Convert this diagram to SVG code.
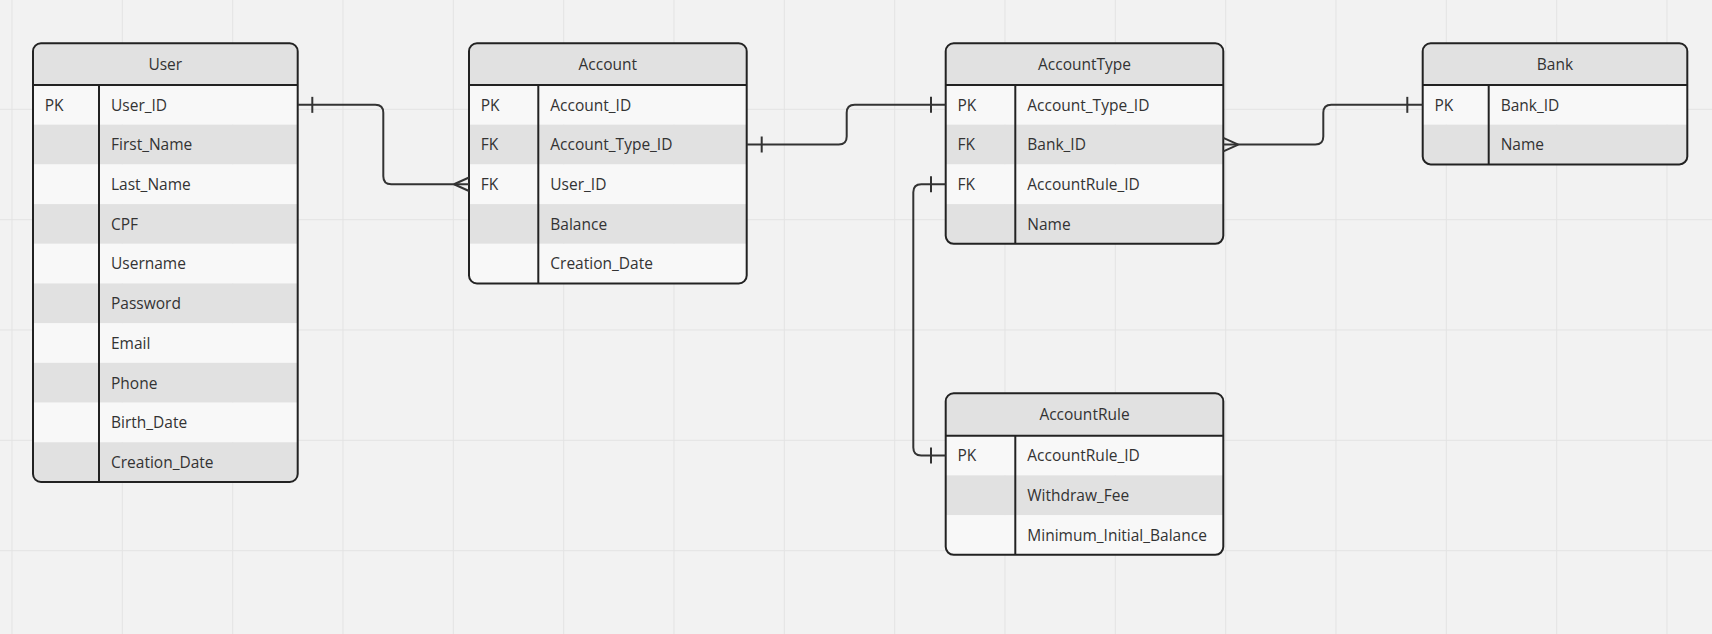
<svg xmlns="http://www.w3.org/2000/svg" width="1712" height="634" viewBox="0 0 1712 634">
<style>
.bg{fill:#f2f2f2}
.grid line{stroke:#e3e3e3;stroke-width:1}
.hd{fill:#e1e1e1}
.rl{fill:#f8f8f8}
.rd{fill:#e1e1e1}
.ol{fill:none;stroke:#222;stroke-width:2}
.ln{stroke:#222;stroke-width:2}
text{font-family:"Open Sans","Noto Sans","DejaVu Sans",sans-serif;font-size:15.5px;fill:#333}
.t{text-anchor:middle}
.conn path{fill:none;stroke:#333;stroke-width:2}
</style>
<defs>
<clipPath id="c-user"><rect x="33" y="43.3" width="264.7" height="438.7" rx="8"/></clipPath>
<clipPath id="c-account"><rect x="469" y="43.3" width="277.7" height="240.2" rx="8"/></clipPath>
<clipPath id="c-accounttype"><rect x="945.7" y="43.3" width="277.6" height="200.5" rx="8"/></clipPath>
<clipPath id="c-bank"><rect x="1422.7" y="43.3" width="264.6" height="121.1" rx="8"/></clipPath>
<clipPath id="c-accountrule"><rect x="945.7" y="393.3" width="277.6" height="161.5" rx="8"/></clipPath>
</defs>
<rect class="bg" x="0" y="0" width="1712" height="634"/>
<g class="grid">
<line x1="12" y1="0" x2="12" y2="634"/><line x1="122.3" y1="0" x2="122.3" y2="634"/><line x1="232.7" y1="0" x2="232.7" y2="634"/><line x1="343" y1="0" x2="343" y2="634"/><line x1="453.3" y1="0" x2="453.3" y2="634"/><line x1="563.7" y1="0" x2="563.7" y2="634"/><line x1="674" y1="0" x2="674" y2="634"/><line x1="784.3" y1="0" x2="784.3" y2="634"/><line x1="894.7" y1="0" x2="894.7" y2="634"/><line x1="1005" y1="0" x2="1005" y2="634"/><line x1="1115.3" y1="0" x2="1115.3" y2="634"/><line x1="1225.7" y1="0" x2="1225.7" y2="634"/><line x1="1336" y1="0" x2="1336" y2="634"/><line x1="1446.3" y1="0" x2="1446.3" y2="634"/><line x1="1556.7" y1="0" x2="1556.7" y2="634"/><line x1="1667" y1="0" x2="1667" y2="634"/>
<line x1="0" y1="109.3" x2="1712" y2="109.3"/><line x1="0" y1="219.7" x2="1712" y2="219.7"/><line x1="0" y1="330" x2="1712" y2="330"/><line x1="0" y1="440.3" x2="1712" y2="440.3"/><line x1="0" y1="550.7" x2="1712" y2="550.7"/>
</g>

<g id="user">
<g clip-path="url(#c-user)">
<rect class="hd" x="33" y="43.3" width="264.7" height="41.7"/>
<rect class="rl" x="33" y="85" width="264.7" height="39.7"/>
<rect class="rd" x="33" y="124.7" width="264.7" height="39.7"/>
<rect class="rl" x="33" y="164.4" width="264.7" height="39.7"/>
<rect class="rd" x="33" y="204.1" width="264.7" height="39.7"/>
<rect class="rl" x="33" y="243.8" width="264.7" height="39.7"/>
<rect class="rd" x="33" y="283.5" width="264.7" height="39.7"/>
<rect class="rl" x="33" y="323.2" width="264.7" height="39.7"/>
<rect class="rd" x="33" y="362.9" width="264.7" height="39.7"/>
<rect class="rl" x="33" y="402.6" width="264.7" height="39.7"/>
<rect class="rd" x="33" y="442.3" width="264.7" height="39.7"/>
</g>
<line class="ln" x1="33" y1="85" x2="297.7" y2="85"/>
<line class="ln" x1="99" y1="85" x2="99" y2="482"/>
<rect class="ol" x="33" y="43.3" width="264.7" height="438.7" rx="8"/>
<text class="t" x="165.3" y="69.9">User</text>
<text x="44.7" y="110.6">PK</text>
<text x="111" y="110.6">User_ID</text>
<text x="111" y="150.3">First_Name</text>
<text x="111" y="190">Last_Name</text>
<text x="111" y="229.7">CPF</text>
<text x="111" y="269.4">Username</text>
<text x="111" y="309.1">Password</text>
<text x="111" y="348.8">Email</text>
<text x="111" y="388.5">Phone</text>
<text x="111" y="428.2">Birth_Date</text>
<text x="111" y="467.9">Creation_Date</text>
</g>

<g id="account">
<g clip-path="url(#c-account)">
<rect class="hd" x="469" y="43.3" width="277.7" height="41.7"/>
<rect class="rl" x="469" y="85" width="277.7" height="39.7"/>
<rect class="rd" x="469" y="124.7" width="277.7" height="39.7"/>
<rect class="rl" x="469" y="164.4" width="277.7" height="39.7"/>
<rect class="rd" x="469" y="204.1" width="277.7" height="39.7"/>
<rect class="rl" x="469" y="243.8" width="277.7" height="39.7"/>
</g>
<line class="ln" x1="469" y1="85" x2="746.7" y2="85"/>
<line class="ln" x1="538.3" y1="85" x2="538.3" y2="283.5"/>
<rect class="ol" x="469" y="43.3" width="277.7" height="240.2" rx="8"/>
<text class="t" x="607.8" y="69.9">Account</text>
<text x="480.7" y="110.6">PK</text>
<text x="550.3" y="110.6">Account_ID</text>
<text x="480.7" y="150.3">FK</text>
<text x="550.3" y="150.3">Account_Type_ID</text>
<text x="480.7" y="190">FK</text>
<text x="550.3" y="190">User_ID</text>
<text x="550.3" y="229.7">Balance</text>
<text x="550.3" y="269.4">Creation_Date</text>
</g>

<g id="accounttype">
<g clip-path="url(#c-accounttype)">
<rect class="hd" x="945.7" y="43.3" width="277.6" height="41.7"/>
<rect class="rl" x="945.7" y="85" width="277.6" height="39.7"/>
<rect class="rd" x="945.7" y="124.7" width="277.6" height="39.7"/>
<rect class="rl" x="945.7" y="164.4" width="277.6" height="39.7"/>
<rect class="rd" x="945.7" y="204.1" width="277.6" height="39.7"/>
</g>
<line class="ln" x1="945.7" y1="85" x2="1223.3" y2="85"/>
<line class="ln" x1="1015.3" y1="85" x2="1015.3" y2="243.8"/>
<rect class="ol" x="945.7" y="43.3" width="277.6" height="200.5" rx="8"/>
<text class="t" x="1084.5" y="69.9">AccountType</text>
<text x="957.4" y="110.6">PK</text>
<text x="1027.3" y="110.6">Account_Type_ID</text>
<text x="957.4" y="150.3">FK</text>
<text x="1027.3" y="150.3">Bank_ID</text>
<text x="957.4" y="190">FK</text>
<text x="1027.3" y="190">AccountRule_ID</text>
<text x="1027.3" y="229.7">Name</text>
</g>

<g id="bank">
<g clip-path="url(#c-bank)">
<rect class="hd" x="1422.7" y="43.3" width="264.6" height="41.7"/>
<rect class="rl" x="1422.7" y="85" width="264.6" height="39.7"/>
<rect class="rd" x="1422.7" y="124.7" width="264.6" height="39.7"/>
</g>
<line class="ln" x1="1422.7" y1="85" x2="1687.3" y2="85"/>
<line class="ln" x1="1488.7" y1="85" x2="1488.7" y2="164.4"/>
<rect class="ol" x="1422.7" y="43.3" width="264.6" height="121.1" rx="8"/>
<text class="t" x="1555" y="69.9">Bank</text>
<text x="1434.4" y="110.6">PK</text>
<text x="1500.7" y="110.6">Bank_ID</text>
<text x="1500.7" y="150.3">Name</text>
</g>

<g id="accountrule">
<g clip-path="url(#c-accountrule)">
<rect class="hd" x="945.7" y="393.3" width="277.6" height="42.4"/>
<rect class="rl" x="945.7" y="435.7" width="277.6" height="39.7"/>
<rect class="rd" x="945.7" y="475.4" width="277.6" height="39.7"/>
<rect class="rl" x="945.7" y="515.1" width="277.6" height="39.7"/>
</g>
<line class="ln" x1="945.7" y1="435.7" x2="1223.3" y2="435.7"/>
<line class="ln" x1="1015.3" y1="435.7" x2="1015.3" y2="554.8"/>
<rect class="ol" x="945.7" y="393.3" width="277.6" height="161.5" rx="8"/>
<text class="t" x="1084.5" y="420.2">AccountRule</text>
<text x="957.4" y="461.3">PK</text>
<text x="1027.3" y="461.3">AccountRule_ID</text>
<text x="1027.3" y="501">Withdraw_Fee</text>
<text x="1027.3" y="540.7">Minimum_Initial_Balance</text>
</g>

<g class="conn" id="connectors">
<path d="M298,104.85 H375.3 Q383.3,104.85 383.3,112.85 V176.25 Q383.3,184.25 391.3,184.25 H469"/>
<path d="M312.3,96.85 V112.85"/>
<path d="M454,184.25 L469,177.5 M454,184.25 L469,191"/>
<path d="M746.7,144.55 H838.7 Q846.7,144.55 846.7,136.55 V112.85 Q846.7,104.85 854.7,104.85 H945.7"/>
<path d="M761.7,136.55 V152.55 M931,96.85 V112.85"/>
<path d="M1223.3,144.55 H1315.3 Q1323.3,144.55 1323.3,136.55 V112.85 Q1323.3,104.85 1331.3,104.85 H1422.7"/>
<path d="M1238.3,144.55 L1223.3,137.8 M1238.3,144.55 L1223.3,151.3"/>
<path d="M1407.3,96.85 V112.85"/>
<path d="M945.7,184.25 H921.3 Q913.3,184.25 913.3,192.25 V447.55 Q913.3,455.55 921.3,455.55 H945.7"/>
<path d="M931,176.25 V192.25 M931,447.55 V463.55"/>
</g>
</svg>
